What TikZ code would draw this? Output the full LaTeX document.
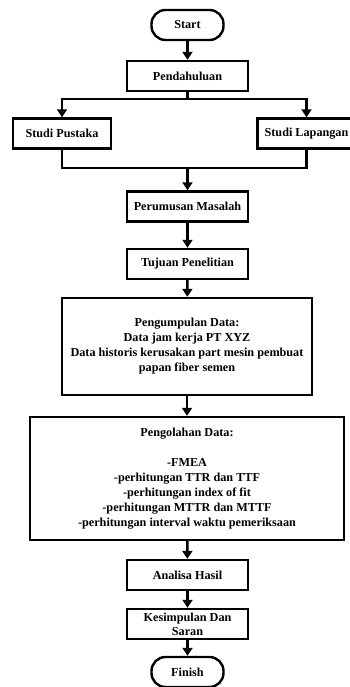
\documentclass[tikz,border=0pt]{standalone}
\usepackage{fontspec}
\setmainfont{Liberation Serif}
\usetikzlibrary{arrows.meta,positioning}

\begin{document}
\begin{tikzpicture}[y=-1pt,x=1pt,
	box/.style={draw,line width=2.4pt,minimum height=30pt,inner sep=1pt,align=center,font=\bfseries\fontsize{12.2}{15}\selectfont},
	term/.style={box,rounded corners=14pt,minimum width=72pt},
	flow/.style={line width=2.4pt,-{Triangle[length=8pt,width=10pt]}}]
	\useasboundingbox (0,0) rectangle (349,687);

	\node[term] (start) at (187.5,25) {Start};
	\node[box,minimum width=121pt] (pendahuluan) at (187.5,76) {Pendahuluan};
	\node[box,minimum width=98pt] (pustaka) at (62,133.5) {Studi Pustaka};
	\node[box,minimum width=98pt] (lapangan) at (306.5,133.5) {Studi Lapangan};
	\node[box,minimum width=121pt] (rumusan) at (187.5,206.5) {Perumusan Masalah};
	\node[box,minimum width=121pt] (tujuan) at (187.5,264) {Tujuan Penelitian};
	\node[box,minimum width=250pt,minimum height=97pt] (kumpul) at (187,346.5) {Pengumpulan Data:\\Data jam kerja PT XYZ\\Data historis kerusakan part mesin pembuat\\papan fiber semen};
	\node[box,minimum width=314pt,minimum height=123pt] (olah) at (187,478.5) {Pengolahan Data:\\[15pt]-FMEA\\-perhitungan TTR dan TTF\\-perhitungan index of fit\\-perhitungan MTTR dan MTTF\\-perhitungan interval waktu pemeriksaan};
	\node[box,minimum width=121pt] (analisa) at (187.5,575) {Analisa Hasil};
	\node[box,minimum width=121pt,font=\bfseries\fontsize{12.2}{14}\selectfont,inner sep=0pt] (simpulan) at (187.5,624) {Kesimpulan Dan\\Saran};
	\node[term] (finish) at (187.5,672) {Finish};

	% percabangan studi
	\coordinate (gabung) at (187.5,168);
	\draw[flow] (start) -- (pendahuluan);
	\draw[flow] (pendahuluan.south) -- ++(0,7) -| (pustaka.north);
	\draw[flow] (pendahuluan.south) -- ++(0,7) -| (lapangan.north);
	\draw[line width=2.4pt] (pustaka.south) |- (gabung) -| (lapangan.south);
	\draw[flow] (gabung) -- (rumusan);

	\draw[flow] (rumusan) -- (tujuan);
	\draw[flow] (tujuan) -- (kumpul);
	\draw[flow] (kumpul) -- (olah);
	\draw[flow] (olah) -- (analisa);
	\draw[flow] (analisa) -- (simpulan);
	\draw[flow] (simpulan) -- (finish);
\end{tikzpicture}
\end{document}
